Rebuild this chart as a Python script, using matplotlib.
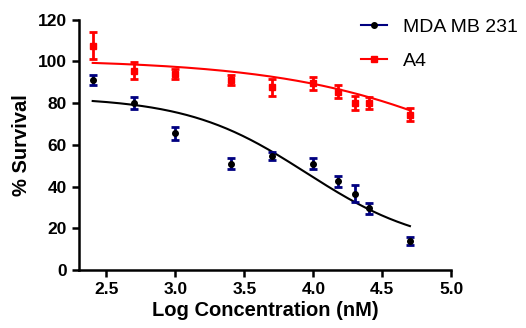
import numpy as np
import matplotlib
matplotlib.use('Agg')
import matplotlib.pyplot as plt

plt.rcParams['font.family'] = ['Liberation Sans', 'DejaVu Sans']

# Log concentration (nM)
log_conc = [2.4, 2.7, 3.0, 3.4, 3.7, 4.0, 4.18, 4.3, 4.4, 4.7]

# MDA MB 231 mean survival and error
mda_y = [91, 80, 65.5, 51, 54.5, 51, 42.5, 36.5, 29.5, 14]
mda_err = [2.5, 3, 3, 2.5, 2, 2.5, 2.5, 4, 2.5, 2]

# A4 mean survival and error
a4_y = [107.5, 95.5, 94, 91, 87.5, 89.5, 85.5, 80, 80, 74.5]
a4_err = [6.5, 4, 2.5, 2.5, 4, 3, 3, 3.2, 2.8, 3.2]

# fitted 4PL parameters (top, bottom, logEC50, hill)
mda_fit = (83, 10, 3.95, 1.0)
a4_fit = (101, 0, 5.6, 0.55)


def four_pl(x, top, bottom, ec50, hill):
    return bottom + (top - bottom) / (1 + 10 ** ((x - ec50) * hill))


fig = plt.figure(figsize=(5.26, 3.28), dpi=100)
ax = fig.add_axes([0.150, 0.177, 0.708, 0.763])

xs = np.linspace(min(log_conc), max(log_conc), 200)
ax.plot(xs, four_pl(xs, *mda_fit), color='black', lw=1.5, zorder=2)
ax.plot(xs, four_pl(xs, *a4_fit), color='red', lw=1.5, zorder=2)

ax.errorbar(log_conc, mda_y, yerr=mda_err, fmt='o', color='black', ms=4,
            ecolor='navy', elinewidth=2, capsize=3, capthick=2, zorder=3)
ax.errorbar(log_conc, a4_y, yerr=a4_err, fmt='s', color='red', ms=4,
            ecolor='red', elinewidth=2, capsize=3, capthick=2, zorder=3)

# legend handles
h1, = ax.plot([], [], color='navy', lw=1.5, marker='o', mfc='black', mec='black', ms=4)
h2, = ax.plot([], [], color='red', lw=1.5, marker='s', ms=4)
leg = fig.legend([h1, h2], ['MDA MB 231', 'A4'], loc='upper left',
                 bbox_to_anchor=(0.66, 0.985), frameon=False, fontsize=14,
                 handlelength=1.35, labelspacing=0.85, handletextpad=0.8,
                 borderaxespad=0.3)

ax.set_xlim(2.3, 5.0)
ax.set_ylim(0, 120)
ax.set_xticks([2.5, 3.0, 3.5, 4.0, 4.5, 5.0])
ax.set_yticks([0, 20, 40, 60, 80, 100, 120])
ax.xaxis.set_major_formatter(matplotlib.ticker.FormatStrFormatter('%.1f'))

for s in ['top', 'right']:
    ax.spines[s].set_visible(False)
for s in ['left', 'bottom']:
    ax.spines[s].set_linewidth(1.8)
ax.tick_params(width=1.8, length=5, labelsize=12.5)
for lab in ax.get_xticklabels() + ax.get_yticklabels():
    lab.set_fontweight('bold')

ax.set_xlabel('Log Concentration (nM)', fontsize=14.5, fontweight='bold', labelpad=3)
ax.set_ylabel('% Survival', fontsize=14.5, fontweight='bold', labelpad=5)

fig.savefig('out.png', dpi=100)
